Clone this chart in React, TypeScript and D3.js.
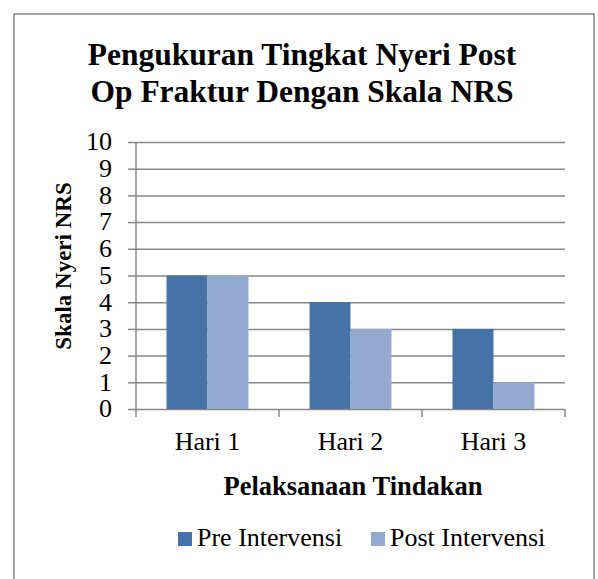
import * as d3 from "d3";
import { useEffect, useRef } from "react";

const categories = ["Hari 1", "Hari 2", "Hari 3"];
const seriesNames = ["Pre Intervensi", "Post Intervensi"];
const preValues = [5, 4, 3];
const postValues = [5, 3, 1];
const yTicks = [0, 1, 2, 3, 4, 5, 6, 7, 8, 9, 10];
const titleLines = ["Pengukuran Tingkat Nyeri Post", "Op Fraktur Dengan Skala NRS"];
const xTitle = "Pelaksanaan Tindakan";
const yTitle = "Skala Nyeri NRS";

const colors = ["#4572a7", "#93a9cf"];
const gridColor = "#878787";
const font = "'Liberation Serif', 'Times New Roman', serif";

export default function App() {
  const svgRef = useRef<SVGSVGElement>(null);
  const width = 598;
  const height = 579;
  const plot = { left: 136, right: 565, top: 142, bottom: 409 };

  useEffect(() => {
    const svg = d3.select(svgRef.current);
    svg.selectAll("*").remove();

    // outer chart border (bottom edge falls outside the picture)
    svg.append("rect")
      .attr("x", 14).attr("y", 14)
      .attr("width", 580).attr("height", 600)
      .attr("fill", "white")
      .attr("stroke", gridColor).attr("stroke-width", 1.5);

    // title
    svg.append("text")
      .attr("x", 302).attr("y", 65)
      .attr("text-anchor", "middle")
      .attr("font-family", font).attr("font-weight", "bold").attr("font-size", 31.5)
      .selectAll("tspan")
      .data(titleLines)
      .join("tspan")
      .attr("x", 302)
      .attr("dy", (_, i) => (i === 0 ? 0 : 37))
      .text((d) => d);

    const x0 = d3.scaleBand<string>()
      .domain(categories)
      .range([plot.left, plot.right])
      .paddingInner(0.427)
      .paddingOuter(0.2135);
    const x1 = d3.scaleBand<string>()
      .domain(seriesNames)
      .range([0, x0.bandwidth()]);
    const y = d3.scaleLinear().domain([0, 10]).range([plot.bottom, plot.top]);

    // gridlines + y axis
    const gy = svg.append("g").attr("transform", `translate(${plot.left},0)`);
    gy.call(
      d3.axisLeft(y).tickValues(yTicks).tickSize(8).tickPadding(16).tickFormat(d3.format("d")) as any
    );
    gy.select(".domain").remove();
    gy.selectAll(".tick line").attr("stroke", gridColor).attr("stroke-width", 1.5);
    gy.selectAll(".tick text")
      .attr("font-family", font).attr("font-size", 26).attr("fill", "#000")
      .attr("dy", "0.3em");
    gy.selectAll(".tick")
      .append("line")
      .attr("x1", 0).attr("x2", plot.right - plot.left)
      .attr("stroke", gridColor).attr("stroke-width", 1.5);

    // bars
    const data = categories.map((c, i) => ({ cat: c, values: [preValues[i], postValues[i]] }));
    svg.append("g")
      .selectAll("g")
      .data(data)
      .join("g")
      .attr("transform", (d) => `translate(${x0(d.cat)},0)`)
      .selectAll("rect")
      .data((d) => d.values.map((v, j) => ({ name: seriesNames[j], v, j })))
      .join("rect")
      .attr("x", (d) => x1(d.name)!)
      .attr("y", (d) => y(d.v))
      .attr("width", x1.bandwidth())
      .attr("height", (d) => y(0) - y(d.v))
      .attr("fill", (d) => colors[d.j]);

    // y axis line
    svg.append("line")
      .attr("x1", plot.left).attr("x2", plot.left)
      .attr("y1", plot.top).attr("y2", plot.bottom + 8)
      .attr("stroke", gridColor).attr("stroke-width", 1.5);

    // category separators below axis
    const step = x0.step();
    svg.append("g")
      .selectAll("line")
      .data(categories)
      .join("line")
      .attr("x1", (d) => x0(d)! + x0.bandwidth() / 2 + step / 2)
      .attr("x2", (d) => x0(d)! + x0.bandwidth() / 2 + step / 2)
      .attr("y1", plot.bottom).attr("y2", plot.bottom + 8)
      .attr("stroke", gridColor).attr("stroke-width", 1.5);

    // category labels
    svg.append("g")
      .selectAll("text")
      .data(categories)
      .join("text")
      .attr("x", (d) => x0(d)! + x0.bandwidth() / 2)
      .attr("y", 450)
      .attr("text-anchor", "middle")
      .attr("font-family", font).attr("font-size", 26)
      .text((d) => d);

    // axis titles
    svg.append("text")
      .attr("x", 353).attr("y", 495)
      .attr("text-anchor", "middle")
      .attr("font-family", font).attr("font-weight", "bold").attr("font-size", 26.5)
      .text(xTitle);
    svg.append("text")
      .attr("transform", "translate(71,266) rotate(-90)")
      .attr("text-anchor", "middle")
      .attr("font-family", font).attr("font-weight", "bold").attr("font-size", 23)
      .text(yTitle);

    // legend
    const legendX = [178, 371];
    const lg = svg.append("g")
      .selectAll("g")
      .data(seriesNames)
      .join("g")
      .attr("transform", (_, i) => `translate(${legendX[i]},532)`);
    lg.append("rect")
      .attr("width", 14).attr("height", 14)
      .attr("fill", (_, i) => colors[i]);
    lg.append("text")
      .attr("x", 19).attr("y", 14)
      .attr("font-family", font).attr("font-size", 26)
      .text((d) => d);
  }, []);

  return (
    <svg
      ref={svgRef}
      width={width}
      height={height}
      viewBox={`0 0 ${width} ${height}`}
      style={{ position: "absolute", left: 0, top: 0, background: "white" }}
    />
  );
}
